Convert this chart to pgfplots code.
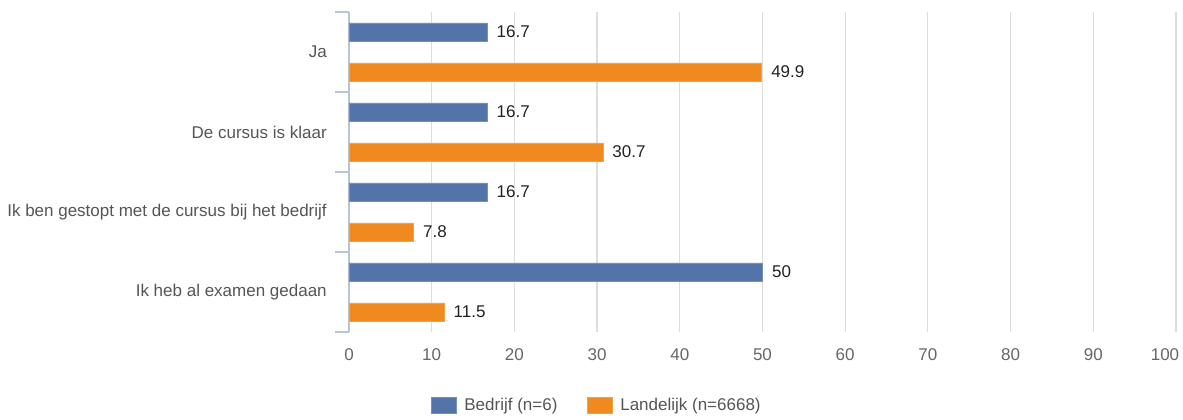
\documentclass[border=0pt]{standalone}
\usepackage{fontspec}
\setmainfont{Liberation Sans}
\usepackage{pgfplots}
\pgfplotsset{compat=1.18}

\definecolor{bedrijf}{RGB}{82,116,168}
\definecolor{landelijk}{RGB}{240,137,30}
\definecolor{axisln}{RGB}{184,198,216}
\definecolor{gridln}{RGB}{221,221,221}
\definecolor{labelgray}{RGB}{85,85,85}
\definecolor{valtext}{RGB}{34,34,34}

\newcommand{\chartfont}{\fontsize{12.75pt}{14pt}\selectfont}

\begin{document}
\begin{tikzpicture}
\begin{axis}[
    name=ax,
    scale only axis,
    width=620.25pt, height=240pt,
    xmin=0, xmax=100,
    ymin=-0.5, ymax=3.5,
    xtick={0,10,...,90},
    extra x ticks={100},
    extra x tick style={xticklabel style={xshift=-8.25pt}},
    ytick={0,1,2,3},
    yticklabels={Ik heb al examen gedaan,Ik ben gestopt met de cursus bij het bedrijf,De cursus is klaar,Ja},
    minor ytick={-0.5,0.5,1.5,2.5,3.5},
    axis x line*=bottom,
    axis y line*=left,
    x axis line style={draw=none},
    y axis line style={draw=axisln, line width=1pt},
    major tick length=0pt,
    minor tick length=10.5pt,
    tick align=outside,
    minor tick style={draw=axisln, line width=1pt},
    xmajorgrids,
    grid style={draw=gridln, line width=0.9pt},
    /pgf/number format/assume math mode=true,
    xticklabel style={font=\chartfont, text=labelgray!90, anchor=center, yshift=-17.25pt},
    yticklabel style={font=\chartfont, text=labelgray, anchor=east, inner sep=0pt, xshift=-16.5pt},
    nodes near coords,
    point meta=x,
    every node near coord/.append style={font=\chartfont, text=valtext, anchor=west, inner sep=0pt, xshift=7pt},
    legend style={at={(0.30,-0.228)}, anchor=center, draw=none, legend columns=2,
        font=\chartfont, text=labelgray,
        /tikz/every odd column/.append style={column sep=4pt},
        /tikz/every even column/.append style={column sep=20pt}},
    legend image code/.code={\path[#1] (0pt,-6pt) rectangle (18.75pt,6pt);},
]
\addplot[xbar, bar width=13.5pt, bar shift=0pt, fill=bedrijf, draw=bedrijf!80!white]
    coordinates {(16.7,3.25) (16.7,2.25) (16.7,1.25) (50,0.25)};
\addlegendentry{Bedrijf (n=6)}
\addplot[xbar, bar width=13.5pt, bar shift=0pt, fill=landelijk, draw=landelijk!80!white]
    coordinates {(49.9,2.75) (30.7,1.75) (7.8,0.75) (11.5,-0.25)};
\addlegendentry{Landelijk (n=6668)}
\end{axis}
\pgfresetboundingbox
\path ([shift={(-261.75pt,-66pt)}]ax.south west) rectangle ([shift={(5.25pt,9pt)}]ax.north east);
\end{tikzpicture}
\end{document}
